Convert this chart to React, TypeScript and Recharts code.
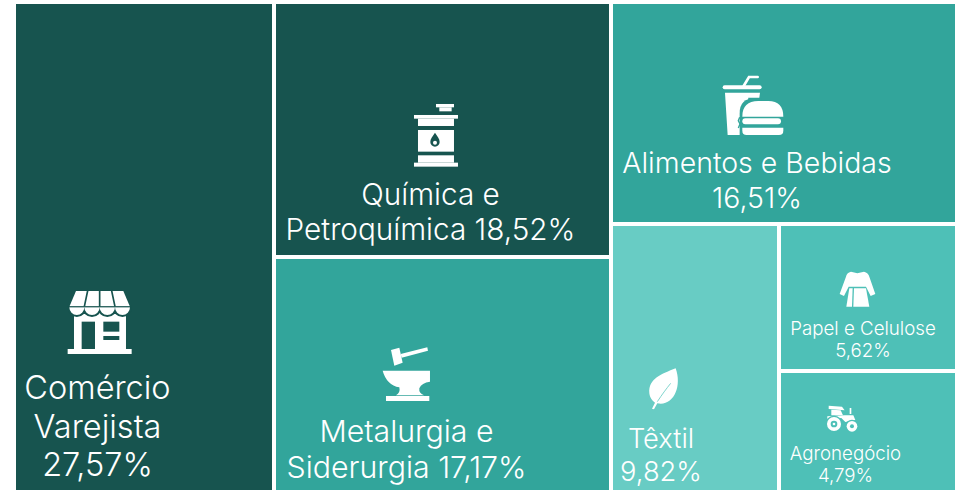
import { Treemap } from 'recharts';

const sectors = ['Comércio Varejista', 'Química e Petroquímica', 'Metalurgia e Siderurgia', 'Alimentos e Bebidas', 'Têxtil', 'Papel e Celulose', 'Agronegócio'];
const shares = [27.57, 18.52, 17.17, 16.51, 9.82, 5.62, 4.79];
const labelLines = [
  ['Comércio', 'Varejista', '27,57%'],
  ['Química e', 'Petroquímica 18,52%'],
  ['Metalurgia e', 'Siderurgia 17,17%'],
  ['Alimentos e Bebidas', '16,51%'],
  ['Têxtil', '9,82%'],
  ['Papel e Celulose', '5,62%'],
  ['Agronegócio', '4,79%'],
];
const colors = ['#17544f', '#17544f', '#32a59b', '#32a59b', '#68ccc4', '#4ec0b7', '#4ec0b7'];

const treeData = sectors.map((name, i) => ({ name, size: shares[i], idx: i }));

// label placement inside each cell, relative to the cell corner
const labelPlace = [
  { dx: 83.5, first: 397, lineGap: 38.5, font: 32.5 },
  { dx: 156.5, first: 202.5, lineGap: 35, font: 29.7 },
  { dx: 132.5, first: 185, lineGap: 36, font: 30.3 },
  { dx: 146, first: 170.5, lineGap: 35, font: 28.5 },
  { dx: 50, first: 223.5, lineGap: 33, font: 27.3 },
  { dx: 84, first: 111, lineGap: 22, font: 18.7 },
  { dx: 66.5, first: 89, lineGap: 22, font: 18.7 },
];

const SCALLOPS = 'M208 112 A 22.5 23 0 0 0 253 112 A 23 23 0 0 0 299 112 A 23 23 0 0 0 345 112 A 22.5 23 0 0 0 390 112 Z';

function StoreIcon({ bg }: { bg: string }) {
  return (
    <g fill="#fff" stroke="none">
      <rect x={222} y={118} width={156} height={120} />
      <rect x={203} y={237} width={192} height={15} />
      <path d={SCALLOPS} stroke={bg} strokeWidth={12} fill={bg} />
      <path d="M228 63 L370 63 L390 110 L208 110 Z" />
      <path d={SCALLOPS} />
      <path d="M263.5 60 L253 110 M299 60 L299 110 M334.5 60 L345 110" stroke={bg} strokeWidth={5} fill="none" />
      <path d="M204 110 L394 110" stroke={bg} strokeWidth={3} fill="none" />
      <rect x={245} y={155} width={40} height={82} fill={bg} />
      <rect x={310} y={155} width={48} height={30} fill={bg} />
      <rect x={310} y={198} width={48} height={12} fill={bg} />
    </g>
  );
}

function BarrelIcon({ bg }: { bg: string }) {
  return (
    <g fill="#fff" stroke="none">
      <rect x={498} y={312} width={54} height={10} />
      <rect x={508} y={322} width={37} height={12} />
      <rect x={432} y={345} width={132} height={11} />
      <rect x={444} y={356} width={108} height={22} />
      <rect x={444} y={390} width={108} height={65} />
      <rect x={444} y={466} width={108} height={22} />
      <rect x={432} y={488} width={132} height={12} />
      <path d="M495 398 C 503 410 509 416 509 426 A 14 14 0 0 1 481 426 C 481 416 487 410 495 398 Z" fill={bg} />
      <circle cx={495} cy={428} r={6} />
    </g>
  );
}

function FoodIcon({ bg }: { bg: string }) {
  return (
    <g fill="#fff" stroke="none">
      <rect x={353} y={256} width={117} height={12} rx={6} />
      <path d="M416 258 L432 231 L458 231" stroke="#fff" strokeWidth={8} fill="none" strokeLinecap="round" />
      <path d="M360 278 L465 278 L463 293 L430 293 L420 405 L368 405 Z" />
      <path d="M404 412 L404 340 Q404 295 450 295 L470 295 L470 412 Z" fill={bg} />
      <path d="M412 350 Q412 303 460 303 L490 303 Q535 303 535 350 Z" />
      <rect x={412} y={355} width={116} height={18} rx={9} />
      <path d="M412 383 L535 383 L535 392 Q535 405 522 405 L425 405 Q412 405 412 392 Z" />
      <path d="M404 352 L400 362 L405 372 L400 384" stroke={bg} strokeWidth={4} fill="none" />
    </g>
  );
}

function AnvilIcon() {
  return (
    <g fill="#fff" stroke="none">
      <path d="M363 60 L388 53 L398 98 L373 107 Z" />
      <path d="M392 72 L472 52 L474 62 L395 83 Z" />
      <path d="M338 122 L480 122 L480 155 Q455 158 448 175 Q446 190 462 196 L378 196 Q392 188 388 172 Q350 165 338 122 Z" />
      <rect x={348} y={198} width={130} height={15} />
    </g>
  );
}

function LeafIcon({ bg }: { bg: string }) {
  return (
    <g stroke="none">
      <path d="M212 55 C 170 72 130 85 133 130 C 135 145 142 152 150 158 L 141 176 L 147 178 L 157 160 C 205 170 232 110 212 55 Z" fill="#fff" />
      <path d="M157 155 C 170 135 185 115 197 100" stroke={bg} strokeWidth={2.5} fill="none" />
    </g>
  );
}

function RobeIcon() {
  return (
    <g fill="#fff" stroke="none">
      <path d="M243 155 L262 160 L282 155 Q295 158 298 170 L316 222 L302 228 L288 200 L236 200 L222 228 L209 222 L228 170 Q230 158 243 155 Z" />
      <path d="M238 205 L248 205 L246 260 L229 260 Z" />
      <path d="M252 205 L288 205 L298 260 L250 260 Z" />
    </g>
  );
}

function TractorIcon({ bg }: { bg: string }) {
  return (
    <g fill="#fff" stroke="none">
      <path d="M176 557 L216 560 L224 571 L176 567 Z" />
      <path d="M184 569 L212 571 L219 586 L184 586 Z" />
      <path d="M172 589 L224 586 L250 586 L256 600 L226 606 L214 594 L172 596 Z" />
      <rect x={239} y={564} width={5} height={18} />
      <circle cx={192} cy={612} r={25} fill={bg} />
      <circle cx={192} cy={612} r={21} />
      <circle cx={192} cy={612} r={10} fill={bg} />
      <circle cx={192} cy={612} r={4} />
      <circle cx={246} cy={619} r={20} fill={bg} />
      <circle cx={246} cy={619} r={16} />
      <circle cx={246} cy={619} r={6} fill={bg} />
    </g>
  );
}

function iconFor(idx: number, bg: string) {
  if (idx === 0) return <StoreIcon bg={bg} />;
  if (idx === 1) return <BarrelIcon bg={bg} />;
  if (idx === 2) return <AnvilIcon />;
  if (idx === 3) return <FoodIcon bg={bg} />;
  if (idx === 4) return <LeafIcon bg={bg} />;
  if (idx === 5) return <RobeIcon />;
  return <TractorIcon bg={bg} />;
}

// icons are traced at 3x from these page corners, then scaled down by a third
const iconOrigin = [
  [0, 270],
  [270, 0],
  [270, 330],
  [605, 0],
  [605, 350],
  [770, 220],
  [770, 220],
];

function Cell(props: any) {
  const { x, y, width, height, depth, idx } = props;
  if (depth !== 1) return null;
  const place = labelPlace[idx];
  const bg = colors[idx];
  const [ox, oy] = iconOrigin[idx];
  return (
    <g>
      <rect x={x} y={y} width={width} height={height} fill={bg} stroke="#fff" strokeWidth={4} />
      <g transform={`translate(${ox - 14},${oy - 2}) scale(0.3333)`}>
        {iconFor(idx, bg)}
      </g>
      {labelLines[idx].map((line, i) => (
        <text
          key={line}
          x={x + place.dx}
          y={y + place.first + i * place.lineGap}
          textAnchor="middle"
          fill="#fff"
          stroke="none"
          fontFamily="Inter"
          fontSize={place.font}
          fontWeight={300}
        >
          {line}
        </text>
      ))}
    </g>
  );
}

export default function App() {
  return (
    <div style={{ position: 'absolute', left: 0, top: 0, width: 961, height: 490, overflow: 'hidden', background: '#fff' }}>
      <div style={{ position: 'absolute', left: 14, top: 2 }}>
        <Treemap
          width={943}
          height={493}
          data={treeData}
          dataKey="size"
          nameKey="name"
          type="flat"
          aspectRatio={1}
          isAnimationActive={false}
          content={<Cell />}
        />
      </div>
    </div>
  );
}
